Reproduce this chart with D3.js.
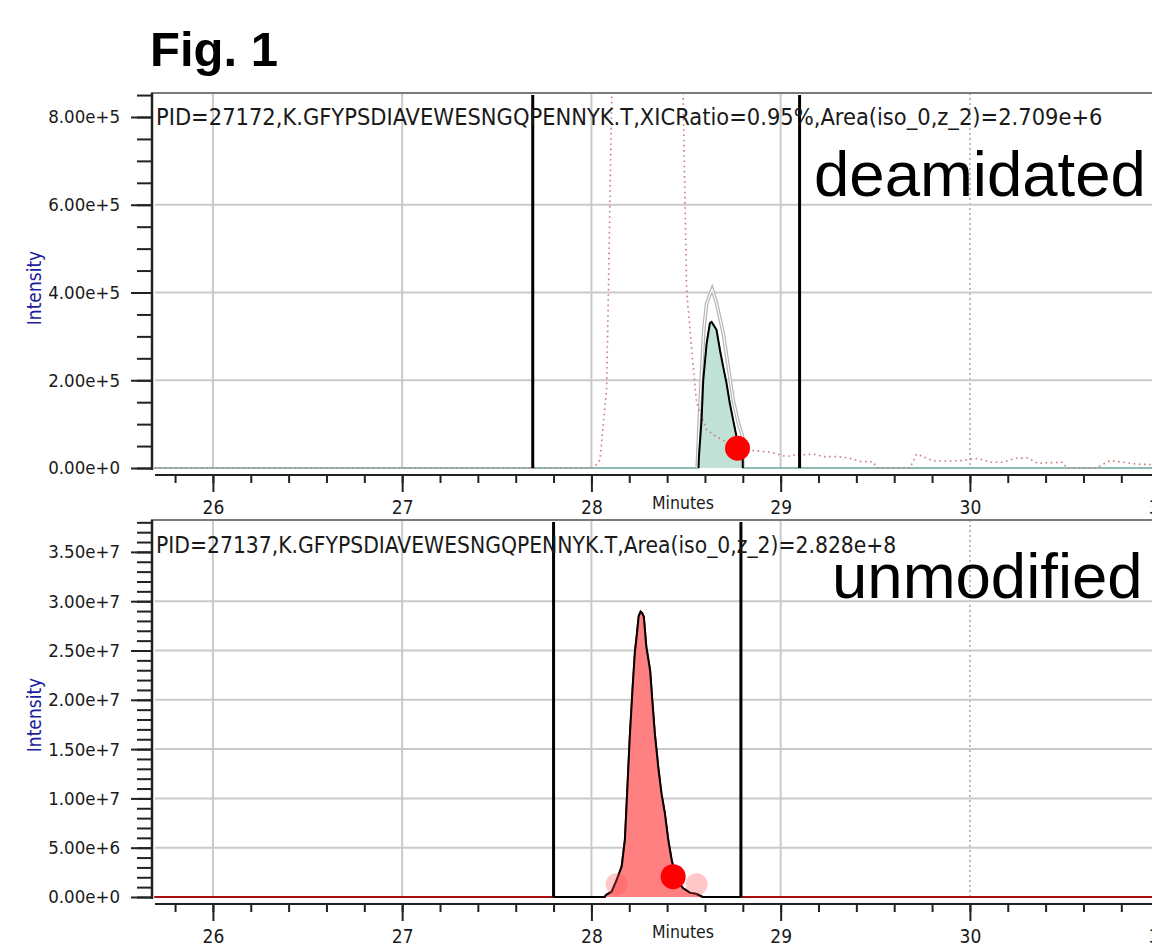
<!DOCTYPE html>
<html>
<head>
<meta charset="utf-8">
<script src="https://cdn.jsdelivr.net/npm/d3@7"></script>
<style>
  body { margin: 0; background: #fff; }
  svg { display: block; }
  .tk text, .ttl, .xlab { font-family: "DejaVu Sans Condensed", "DejaVu Sans", sans-serif; fill: #1a1a1a; }
</style>
</head>
<body>
<svg id="fig" width="1152" height="949"></svg>
<script>
// ---- data ----
const xTicks = [26, 27, 28, 29, 30, 31];
const yTicksDeam = [0, 200000, 400000, 600000, 800000];
const yTicksUnmod = [0, 5e6, 1e7, 1.5e7, 2e7, 2.5e7, 3e7, 3.5e7];

// deamidated XIC (green peak)
const deamTime = [25.69, 28.566, 28.568, 28.582, 28.591, 28.609, 28.626, 28.635, 28.661, 28.679, 28.696, 28.714, 28.731, 28.749, 28.767, 28.799, 28.80, 31.3];
const deamInt  = [0, 0, 25000, 109000, 200000, 284000, 330000, 333000, 315000, 269000, 231000, 193000, 148000, 109000, 71000, 41000, 0, 0];

// isotope envelope (grey outline)
const isoTime = [28.559, 28.569, 28.582, 28.594, 28.609, 28.638, 28.661, 28.696, 28.723, 28.749, 28.776, 28.799, 28.80];
const isoInt  = [0, 103000, 217000, 315000, 376000, 408000, 376000, 308000, 231000, 155000, 103000, 71000, 0];

// other trace (pink dotted)
const otherTime = [25.69, 28.0, 28.02, 28.045, 28.06, 28.08, 28.09, 28.107, 28.13, 28.2, 28.3, 28.4, 28.47, 28.485, 28.503, 28.53, 28.556, 28.609, 28.662, 28.767, 28.85, 28.947, 29.03, 29.08, 29.12, 29.17, 29.225, 29.30, 29.357, 29.419, 29.49, 29.507, 29.683, 29.70, 29.718, 29.753, 29.806, 29.894, 29.956, 30.044, 30.106, 30.176, 30.238, 30.308, 30.361, 30.405, 30.493, 30.51, 30.67, 30.696, 30.74, 30.81, 30.88, 30.95, 31.05, 31.3];
const otherInt  = [0, 0, 5000, 18000, 87000, 178000, 406000, 840000, 1300000, 1600000, 1700000, 1500000, 1100000, 840000, 406000, 269000, 148000, 87000, 71000, 48000, 40000, 36000, 26000, 30000, 30000, 32000, 26000, 26000, 23000, 15000, 14000, 0, 0, 15000, 32000, 26000, 16000, 16000, 17000, 22000, 13000, 13000, 22000, 23000, 10000, 12000, 13000, 0, 0, 7000, 17000, 13000, 9000, 8000, 9000, 8000];

// unmodified XIC (red peak)
const unmodTime = [25.69, 28.07, 28.077, 28.107, 28.133, 28.16, 28.177, 28.19, 28.203, 28.218, 28.23, 28.239, 28.25, 28.26, 28.268, 28.277, 28.29, 28.31, 28.323, 28.335, 28.353, 28.37, 28.388, 28.406, 28.424, 28.45, 28.485, 28.52, 28.556, 28.588, 31.3];
const unmodInt  = [0, 0, 2e5, 5.4e5, 1.7e6, 3.1e6, 5.8e6, 1.1e7, 1.63e7, 2.13e7, 2.49e7, 2.64e7, 2.85e7, 2.894e7, 2.88e7, 2.84e7, 2.54e7, 2.30e7, 1.96e7, 1.66e7, 1.32e7, 1.05e7, 8.5e6, 5.8e6, 3.75e6, 1.7e6, 8.8e5, 4.4e5, 3e5, 0, 0];

// integration boundaries and picked points
const deamBounds = [27.69, 29.10];
const unmodBounds = [27.80, 28.79];
const deamDots = [{t: 28.772, v: 45000, kind: "main"}];
const unmodDots = [{t: 28.133, v: 1.3e6, kind: "pale"}, {t: 28.556, v: 1.3e6, kind: "pale"}, {t: 28.432, v: 2.06e6, kind: "main"}];

const titleDeam = "PID=27172,K.GFYPSDIAVEWESNGQPENNYK.T,XICRatio=0.95%,Area(iso_0,z_2)=2.709e+6";
const titleUnmod = "PID=27137,K.GFYPSDIAVEWESNGQPENNYK.T,Area(iso_0,z_2)=2.828e+8";

// ---- layout ----
const svg = d3.select("#fig");
const x = d3.scaleLinear().domain([25.694, 31.3]).range([155, 155 + (31.3 - 25.694) * 189.25]);
const pts = (ts, vs) => ts.map((t, i) => ({t, v: vs[i]}));

svg.append("text").attr("x", 150).attr("y", 66)
  .style("font-family", "'Liberation Sans', Arial, sans-serif").style("font-weight", "bold")
  .style("font-size", "49px").text("Fig. 1");

function panel(o) {
  const y = d3.scaleLinear().domain(o.yDomain).range([o.base, o.top]);
  const g = svg.append("g");
  const clipId = "clip" + o.id;
  svg.append("clipPath").attr("id", clipId).append("rect")
    .attr("x", 153).attr("y", o.top).attr("width", 1100).attr("height", o.base - o.top + 2);

  // grid
  g.selectAll("line.vg").data(xTicks).join("line")
    .attr("x1", d => x(d)).attr("x2", d => x(d)).attr("y1", o.top).attr("y2", o.base)
    .attr("stroke", d => d === 30 ? "#a8a8a8" : "#cacaca")
    .attr("stroke-width", d => d === 30 ? 1.5 : 2)
    .attr("stroke-dasharray", d => d === 30 ? "2,3" : null);
  g.selectAll("line.hg").data(o.yTicks.filter(d => d > 0 && d < o.noGridAbove)).join("line")
    .attr("x1", 155).attr("x2", 1152).attr("y1", d => y(d)).attr("y2", d => y(d))
    .attr("stroke", "#cacaca").attr("stroke-width", 2);

  // frame
  g.append("line").attr("x1", 151).attr("x2", 1152).attr("y1", o.top).attr("y2", o.top)
    .attr("stroke", "#7a7a7a").attr("stroke-width", 2);

  const plot = g.append("g").attr("clip-path", `url(#${clipId})`);
  o.draw(plot, y);

  // integration bars
  plot.selectAll("line.bar").data(o.bounds).join("line")
    .attr("x1", d => x(d)).attr("x2", d => x(d)).attr("y1", o.top + 2).attr("y2", o.base)
    .attr("stroke", "#000").attr("stroke-width", 3);

  // picked points
  plot.selectAll("circle").data(o.dots).join("circle")
    .attr("cx", d => x(d.t)).attr("cy", d => y(d.v))
    .attr("r", d => d.kind === "main" ? 12.5 : 11)
    .attr("fill", d => d.kind === "main" ? "#ff0000" : "rgba(255,80,80,0.32)");

  // y axis
  const ya = g.append("g").attr("class", "tk").attr("transform", "translate(152,0)");
  ya.call(d3.axisLeft(y).tickValues(o.yMinor).tickSize(15).tickFormat(""));
  ya.append("g").call(d3.axisLeft(y).tickValues(o.yTicks).tickSize(21).tickPadding(11).tickFormat(d3.format(".2e")));
  ya.selectAll(".domain").remove();
  ya.selectAll("line").attr("stroke", "#222").attr("stroke-width", 2);
  ya.selectAll("text").style("font-size", "18.5px").attr("fill", "#1a1a1a");
  g.append("line").attr("x1", 152).attr("x2", 152).attr("y1", o.top).attr("y2", o.base + 2)
    .attr("stroke", "#222").attr("stroke-width", 2.5);

  // x axis
  const xa = g.append("g").attr("class", "tk").attr("transform", `translate(0,${o.axisY})`);
  xa.call(d3.axisBottom(x).tickValues(d3.range(25.8, 31.3, 0.2)).tickSize(8).tickFormat(""));
  xa.append("g").call(d3.axisBottom(x).tickValues(xTicks).tickSize(17).tickFormat(d3.format("d")));
  xa.selectAll(".domain").remove();
  xa.selectAll("line").attr("stroke", "#222").attr("stroke-width", 2);
  xa.selectAll("text").style("font-size", "19px").attr("fill", "#1a1a1a").attr("y", 26);
  g.append("line").attr("x1", 155).attr("x2", 1152).attr("y1", o.axisY).attr("y2", o.axisY)
    .attr("stroke", "#222").attr("stroke-width", 2);

  g.append("text").attr("class", "xlab").attr("x", 683).attr("y", o.axisY + 34)
    .attr("text-anchor", "middle").style("font-size", "17.5px").text("Minutes");

  g.append("text").attr("transform", `translate(41,${o.labelY}) rotate(-90)`)
    .attr("text-anchor", "middle").style("font-family", "'DejaVu Sans Condensed','DejaVu Sans',sans-serif")
    .style("font-size", "19px").attr("fill", "#1c1c9c").text("Intensity");

  // title fitted to the width it spans in the picture
  const tt = g.append("text").attr("class", "ttl").attr("x", 156).attr("y", o.titleY)
    .style("font-size", "20px").text(o.title);
  const w = tt.node().getComputedTextLength();
  tt.style("font-size", (20 * o.titleW / w) + "px");

  g.append("text").attr("x", o.nameX).attr("y", o.nameY)
    .style("font-family", "'Liberation Sans', Arial, sans-serif").style("font-size", "63.5px")
    .attr("fill", "#000").text(o.name);
}

// top panel: deamidated
panel({
  id: "a", top: 93, base: 468, axisY: 475, yDomain: [0, 854700],
  yTicks: yTicksDeam, yMinor: d3.range(0, 854700, 50000), noGridAbove: 700000,
  bounds: deamBounds, dots: deamDots, labelY: 288,
  title: titleDeam, titleW: 947, titleY: 125,
  name: "deamidated", nameX: 814, nameY: 196,
  draw: (p, y) => {
    const deam = pts(deamTime, deamInt);
    const line = d3.line().x(d => x(d.t)).y(d => y(d.v));
    const area = d3.area().x(d => x(d.t)).y0(y(0)).y1(d => y(d.v));
    const first = deamInt.findIndex(v => v > 0) - 1;
    const last = deamInt.length - [...deamInt].reverse().findIndex(v => v > 0);
    const peak = deam.slice(first, last + 1);
    p.append("path").attr("d", line(deam)).attr("fill", "none").attr("stroke", "#6aa79c").attr("stroke-width", 1.6);
    p.append("path").attr("d", line(pts(isoTime, isoInt))).attr("fill", "none").attr("stroke", "#b5b5b5").attr("stroke-width", 3.6);
    p.append("path").attr("d", line(pts(isoTime, isoInt))).attr("fill", "none").attr("stroke", "#fff").attr("stroke-width", 1.2);
    p.append("path").attr("d", area(peak)).attr("fill", "#c0e2d7");
    p.append("path").attr("d", line(pts(otherTime, otherInt))).attr("fill", "none")
      .attr("stroke", "#cf7a7a").attr("stroke-width", 1.6).attr("stroke-dasharray", "1.6,3.6");
    p.append("path").attr("d", line(peak)).attr("fill", "none").attr("stroke", "#000").attr("stroke-width", 2);
  }
});

// bottom panel: unmodified
panel({
  id: "b", top: 520, base: 897, axisY: 904, yDomain: [0, 38235000],
  yTicks: yTicksUnmod, yMinor: d3.range(0, 38235000, 1e6), noGridAbove: 3.2e7,
  bounds: unmodBounds, dots: unmodDots, labelY: 715,
  title: titleUnmod, titleW: 741, titleY: 553,
  name: "unmodified", nameX: 832, nameY: 598,
  draw: (p, y) => {
    const unmod = pts(unmodTime, unmodInt);
    const line = d3.line().x(d => x(d.t)).y(d => y(d.v));
    const area = d3.area().x(d => x(d.t)).y0(y(0)).y1(d => y(d.v));
    const inside = [{t: unmodBounds[0], v: 0}]
      .concat(unmod.filter(d => d.t > unmodBounds[0] && d.t < unmodBounds[1]))
      .concat([{t: unmodBounds[1], v: 0}]);
    p.append("path").attr("d", line(unmod)).attr("fill", "none").attr("stroke", "#a81010").attr("stroke-width", 2);
    p.append("path").attr("d", area(inside)).attr("fill", "#ff8080");
    p.append("path").attr("d", line(inside)).attr("fill", "none").attr("stroke", "#000").attr("stroke-width", 2);
  }
});
</script>
</body>
</html>
